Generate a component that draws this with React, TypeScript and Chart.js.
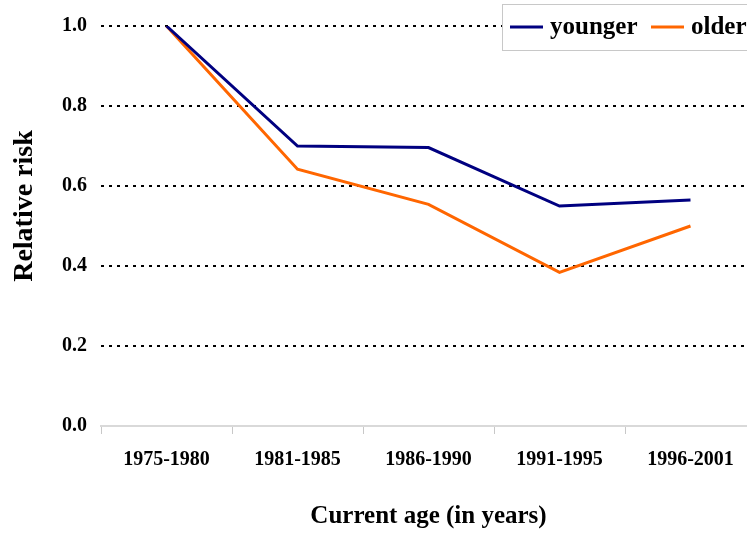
import React, { useEffect, useRef } from "react";
import { Chart, registerables } from "chart.js";

Chart.register(...registerables);

const categories = ["1975-1980", "1981-1985", "1986-1990", "1991-1995", "1996-2001"];
const younger = [1.0, 0.7, 0.696, 0.55, 0.565];
const older = [1.0, 0.642, 0.554, 0.384, 0.5];
const seriesNames = ["younger", "older"];
const seriesColors = ["#000080", "#FF6600"];
const yTitle = "Relative risk";
const xTitle = "Current age (in years)";

const FONT = "'Liberation Serif', 'Times New Roman', serif";

const overlayPlugin = {
  id: "overlay",
  afterDraw(chart: any) {
    const ctx = chart.ctx;
    ctx.save();
    // y axis title
    ctx.translate(25, 206);
    ctx.rotate(-Math.PI / 2);
    ctx.font = `bold 28px ${FONT}`;
    ctx.fillStyle = "#000";
    ctx.textAlign = "center";
    ctx.textBaseline = "middle";
    ctx.fillText(yTitle, 0, 0);
    ctx.restore();

    // legend box
    ctx.save();
    ctx.fillStyle = "#fff";
    ctx.fillRect(502.5, 4.5, 260, 46);
    ctx.strokeStyle = "#c8c8c8";
    ctx.lineWidth = 1;
    ctx.strokeRect(502.5, 4.5, 260, 46);
    ctx.font = `bold 25px ${FONT}`;
    ctx.textBaseline = "middle";
    ctx.textAlign = "left";
    const itemX = [510, 651];
    seriesNames.forEach((name, i) => {
      ctx.strokeStyle = seriesColors[i];
      ctx.lineWidth = 3;
      ctx.beginPath();
      ctx.moveTo(itemX[i], 27);
      ctx.lineTo(itemX[i] + 33, 27);
      ctx.stroke();
      ctx.fillStyle = "#000";
      ctx.fillText(name, itemX[i] + 40, 28);
    });
    ctx.restore();
  },
};

export default function App() {
  const ref = useRef<HTMLCanvasElement | null>(null);

  useEffect(() => {
    if (!ref.current) return;
    const chart = new Chart(ref.current, {
      type: "line",
      data: {
        labels: categories,
        datasets: [
          {
            label: seriesNames[0],
            data: younger,
            borderColor: seriesColors[0],
            backgroundColor: seriesColors[0],
            borderWidth: 3,
            pointRadius: 0,
            tension: 0,
          },
          {
            label: seriesNames[1],
            data: older,
            borderColor: seriesColors[1],
            backgroundColor: seriesColors[1],
            borderWidth: 3,
            pointRadius: 0,
            tension: 0,
          },
        ],
      },
      options: {
        animation: false,
        responsive: false,
        devicePixelRatio: 1,
        layout: { padding: { top: 26, right: 4, left: 0, bottom: 0 } },
        plugins: {
          legend: { display: false },
          tooltip: { enabled: false },
        },
        scales: {
          x: {
            type: "category",
            offset: true,
            grid: {
              offset: true,
              drawOnChartArea: false,
              drawTicks: true,
              tickLength: 8,
              color: "#c8c8c8",
              lineWidth: 1,
            },
            border: { display: true, color: "#d9d9d9", width: 2 },
            ticks: {
              color: "#000",
              padding: 14,
              font: { family: FONT, size: 20, weight: "bold" },
              maxRotation: 0,
            },
            title: {
              display: true,
              text: xTitle,
              color: "#000",
              font: { family: FONT, size: 25, weight: "bold" },
              padding: { top: 4, bottom: 4 },
            },
            afterFit: (scale: any) => {
              scale.height = 110;
            },
          },
          y: {
            min: 0,
            max: 1,
            ticks: {
              stepSize: 0.2,
              color: "#000",
              padding: 14,
              font: { family: FONT, size: 20, weight: "bold" },
              callback: (v: any) => Number(v).toFixed(1),
            },
            grid: {
              drawTicks: false,
              lineWidth: 2,
              color: (c: any) => (c.tick && c.tick.value === 0 ? "rgba(0,0,0,0)" : "#000"),
            },
            border: { display: false, dash: [3, 5] },
            afterFit: (scale: any) => {
              scale.width = 101;
            },
          },
        },
      },
      plugins: [overlayPlugin],
    });
    return () => chart.destroy();
  }, []);

  return (
    <div
      style={{
        position: "absolute",
        left: 0,
        top: 0,
        width: 747,
        height: 536,
        overflow: "hidden",
        background: "#fff",
      }}
    >
      <canvas ref={ref} width={760} height={536} style={{ display: "block" }} />
    </div>
  );
}
